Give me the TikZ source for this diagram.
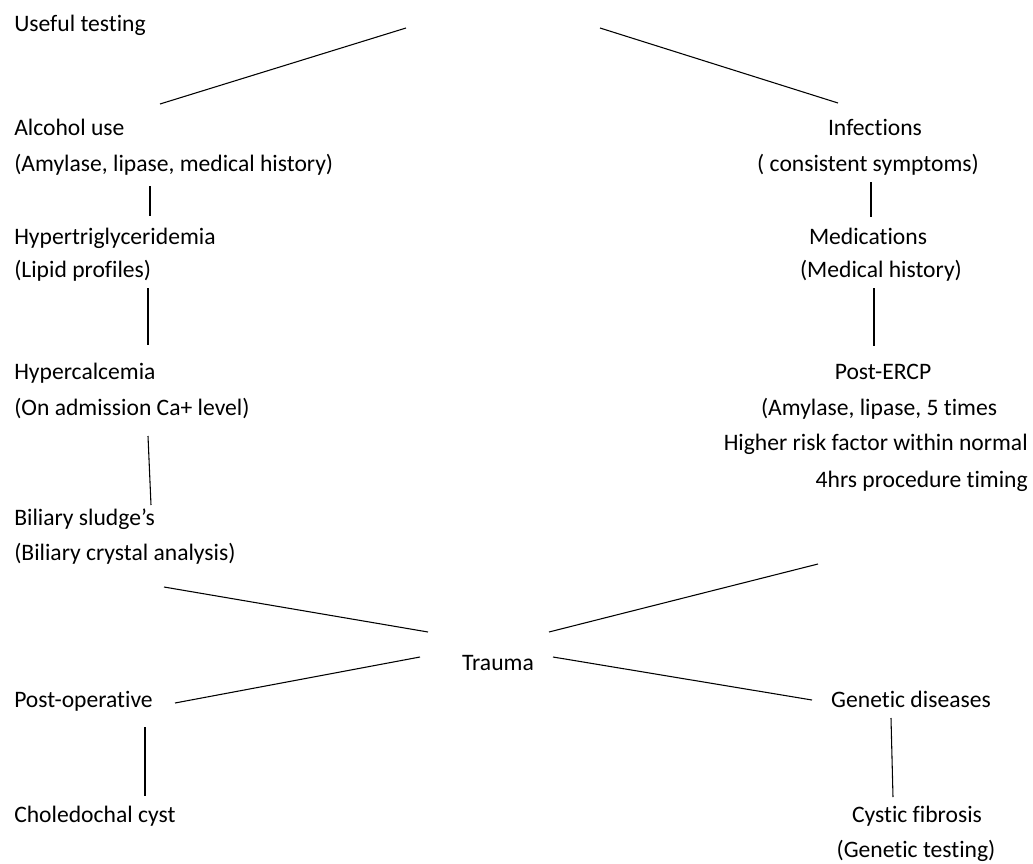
\documentclass[tikz,border=0pt]{standalone}
\usepackage{fontspec}
\setmainfont{Carlito}[Ligatures={NoCommon,NoRequired,NoContextual}]
\begin{document}
\begin{tikzpicture}[x=0.75pt,y=-0.75pt,
  lbl/.style={inner sep=0pt,font=\fontsize{17.7}{21}\selectfont},
  lft/.style={lbl,anchor=base west},
  ctr/.style={lbl,anchor=base},
  rgt/.style={lbl,anchor=base east},
  conn/.style={draw=black,line width=0.8pt}]
\useasboundingbox (0,0) rectangle (1033,864);
% left column
\node[lft] (useful) at (14,31) {Useful testing};
\node[lft] (alc) at (14,135) {Alcohol use};
\node[lft] (alc2) at (14,171) {(Amylase, lipase, medical history)};
\node[lft] (hyp) at (14,244) {Hypertriglyceridemia};
\node[lft] (hyp2) at (14,277) {(Lipid profiles)};
\node[lft] (hca) at (14,379) {Hypercalcemia};
\node[lft] (hca2) at (14,415) {(On admission Ca+ level)};
\node[lft] (bil) at (14,525) {Biliary sludge’s};
\node[lft] (bil2) at (14,560) {(Biliary crystal analysis)};
\node[lft] (post) at (14,707) {Post-operative};
\node[lft] (chol) at (14,822) {Choledochal cyst};
% centre
\node[ctr] (trauma) at (498,670) {Trauma};
% right column
\node[ctr] (inf) at (875,135) {Infections};
\node[ctr] (inf2) at (868,171) {( consistent symptoms)};
\node[ctr] (med) at (868,244) {Medications};
\node[ctr] (med2) at (881,277) {(Medical history)};
\node[ctr] (ercp) at (883,379) {Post-ERCP};
\node[ctr] (ercp2) at (879,415) {(Amylase,\ lipase, 5 times};
\node[rgt] (ercp3) at (1028,450) {Higher risk factor within normal};
\node[rgt] (ercp4) at (1028,487) {4hrs procedure timing};
\node[ctr] (gen) at (911,707) {Genetic diseases};
\node[ctr] (cf) at (917,822) {Cystic fibrosis};
\node[ctr] (cf2) at (916,857) {(Genetic testing)};
% connector end points
\coordinate (a1) at (160,104); \coordinate (a2) at (406,28);
\coordinate (b1) at (600,28); \coordinate (b2) at (838,103);
\coordinate (c1) at (150,186); \coordinate (c2) at (150,216);
\coordinate (d1) at (148,288); \coordinate (d2) at (148,345);
\coordinate (e1) at (148,436); \coordinate (e2) at (151,505);
\coordinate (f1) at (871,182); \coordinate (f2) at (871,217);
\coordinate (g1) at (874,288); \coordinate (g2) at (874,346);
\coordinate (h1) at (164,587); \coordinate (h2) at (428,632);
\coordinate (i1) at (549,632); \coordinate (i2) at (818,564);
\coordinate (j1) at (420,657); \coordinate (j2) at (175,703);
\coordinate (k1) at (553,657); \coordinate (k2) at (812,700);
\coordinate (l1) at (145,727); \coordinate (l2) at (145,796);
\coordinate (m1) at (891,718); \coordinate (m2) at (893,797);
\foreach \p in {a,b,c,d,e,f,g,h,i,j,k,l,m}{\draw[conn] (\p1) -- (\p2);}
\end{tikzpicture}
\end{document}
